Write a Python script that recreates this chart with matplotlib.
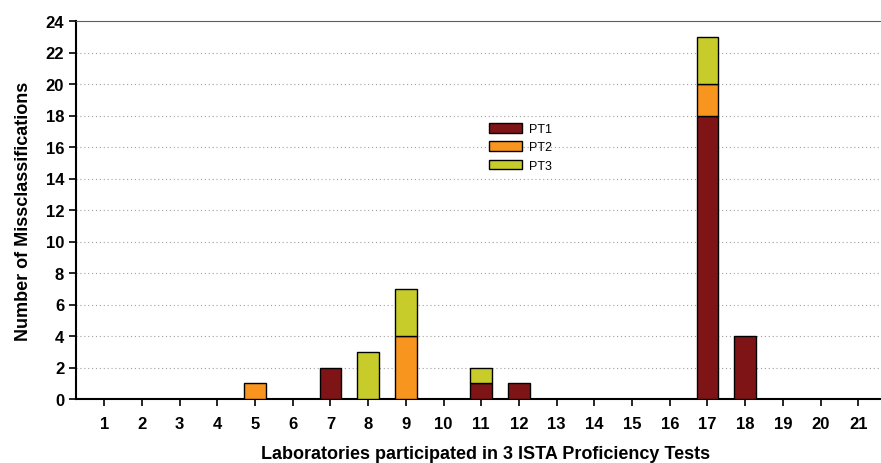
import numpy as np
import matplotlib
matplotlib.use("Agg")
import matplotlib.pyplot as plt

plt.rcParams['font.family'] = ['Liberation Sans', 'DejaVu Sans']

labs = list(range(1, 22))
pt1 = [0, 0, 0, 0, 0, 0, 2, 0, 0, 0, 1, 1, 0, 0, 0, 0, 18, 4, 0, 0, 0]
pt2 = [0, 0, 0, 0, 1, 0, 0, 0, 4, 0, 0, 0, 0, 0, 0, 0, 2, 0, 0, 0, 0]
pt3 = [0, 0, 0, 0, 0, 0, 0, 3, 3, 0, 1, 0, 0, 0, 0, 0, 3, 0, 0, 0, 0]
colors = ["#7f1416", "#f7951f", "#c8cc2a"]

pt1 = np.array(pt1)
pt2 = np.array(pt2)
pt3 = np.array(pt3)

fig = plt.figure(figsize=(8.81, 4.64), dpi=100)
ax = fig.add_axes([76 / 881, 64 / 464, 820 / 881, 378 / 464])

w = 0.58
kw = dict(width=w, edgecolor="black", linewidth=1.0, zorder=3)
ax.bar(labs, np.where(pt1 > 0, pt1, np.nan), color=colors[0], label="PT1", **kw)
ax.bar(labs, np.where(pt2 > 0, pt2, np.nan), bottom=pt1, color=colors[1], label="PT2", **kw)
ax.bar(labs, np.where(pt3 > 0, pt3, np.nan), bottom=pt1 + pt2, color=colors[2], label="PT3", **kw)

ax.set_xlim(0.25, 22.0)
ax.set_ylim(0, 24)
ax.set_yticks(range(0, 25, 2))
ax.set_xticks(labs)
ax.yaxis.grid(True, linestyle=(0, (1, 2.5)), color="#a0a0a0", linewidth=0.8, zorder=0)
ax.tick_params(axis="both", labelsize=12, width=1.2, length=5, direction="out")
for t in ax.get_xticklabels() + ax.get_yticklabels():
    t.set_fontweight("bold")
ax.tick_params(axis="x", pad=7)

ax.spines["left"].set_linewidth(1.5)
ax.spines["bottom"].set_linewidth(1.5)
ax.spines["top"].set_color("#606060")
ax.spines["top"].set_linewidth(0.8)
ax.spines["right"].set_visible(False)

ax.set_ylabel("Number of Missclassifications", fontsize=13, fontweight="bold", labelpad=10)
ax.set_xlabel("Laboratories participated in 3 ISTA Proficiency Tests", fontsize=13,
              fontweight="bold", labelpad=10)

leg = ax.legend(loc="upper left", bbox_to_anchor=(0.49, 0.76), frameon=False, fontsize=9,
                handlelength=2.6, handleheight=0.8, labelspacing=0.5, handletextpad=0.6)

fig.savefig("out.png", dpi=100)
